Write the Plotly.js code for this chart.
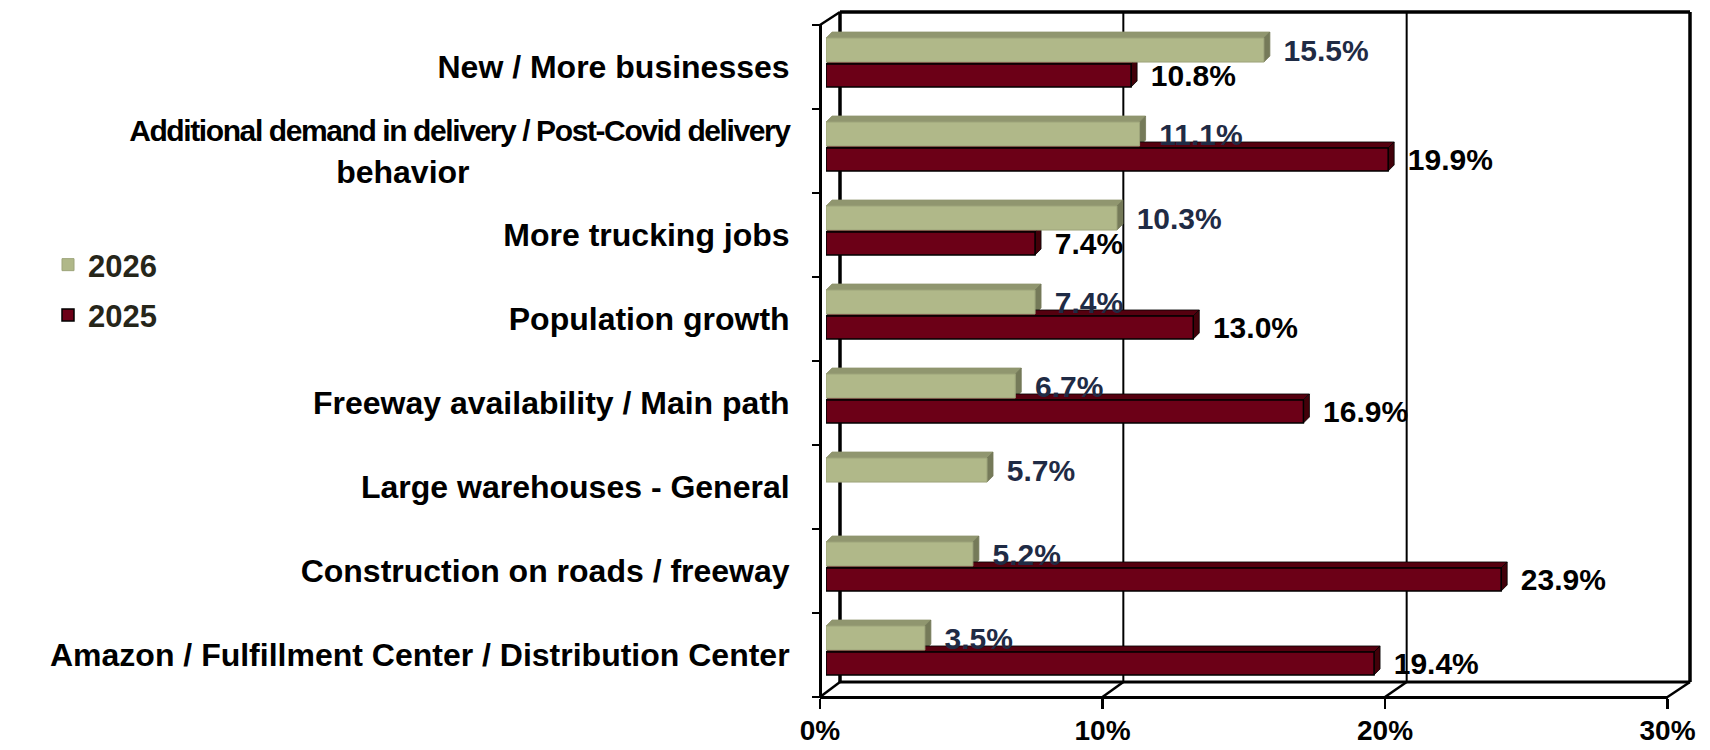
<!DOCTYPE html>
<html>
<head>
<meta charset="utf-8">
<script src="https://cdn.plot.ly/plotly-3.0.1.min.js"></script>
<style>
  html, body { margin: 0; padding: 0; background: #ffffff; }
  #chart { width: 1710px; height: 750px; }
</style>
</head>
<body>
<div id="chart"></div>
<script>
// ---------------- data ----------------
const categories = [
  "New / More businesses",
  "Additional demand in delivery / Post-Covid delivery behavior",
  "More trucking jobs",
  "Population growth",
  "Freeway availability / Main path",
  "Large warehouses - General",
  "Construction on roads / freeway",
  "Amazon / Fulfillment Center / Distribution Center"
];
const seriesNames = ["2026", "2025"];
const values2026 = [15.5, 11.1, 10.3, 7.4, 6.7, 5.7, 5.2, 3.5];
const values2025 = [10.8, 19.9, 7.4, 13.0, 16.9, null, 23.9, 19.4];
const xTickVals = [0, 10, 20, 30];
const xTickLabels = ["0%", "10%", "20%", "30%"];

// ---------------- geometry / style ----------------
const W = 1710, H = 750;
const FONT = "Liberation Sans, Arial, sans-serif";
const px = x => x / W;
const py = y => 1 - y / H;

const BAR_X0 = 826, BAR_X1 = 1673.5;        // bar plane (0..30%)
const FRONT_X0 = 820, FRONT_X1 = 1667.5;    // front axis plane
const BACK_X0 = 840, BACK_X1 = 1690;        // back wall
const PLOT_TOP = 25, PLOT_BOTTOM = 697;     // front plane vertical extent
const BACK_TOP = 12, BACK_BOTTOM = 682;
const XMAX = xTickVals[xTickVals.length - 1];

const nCat = categories.length;
const idx = categories.map((_, i) => i);
const catPx = (PLOT_BOTTOM - PLOT_TOP) / nCat;
const xPx = (BAR_X1 - BAR_X0) / XMAX;
const DEPTH = 6;
const dxD = DEPTH / xPx, dyD = DEPTH / catPx;

const LABEL_SIZE = 32;

// wrap long labels: first line is set tighter, second line shifted as in the original
function wrapLabel(s) {
  const maxLen = 52;
  if (s.length <= maxLen) return s;
  const cut = s.lastIndexOf(" ", maxLen);
  const l1 = s.slice(0, cut), l2 = s.slice(cut + 1);
  const padN = Math.round(320 / (0.278 * LABEL_SIZE));
  return '<span style="font-size:30px;letter-spacing:-1.4px">' + l1 + '</span><br>' +
         l2 + "\u00a0".repeat(padN);
}
const tickText = categories.map(wrapLabel);

const styles = [
  { name: seriesNames[0], vals: values2026, front: "#b0b889", top: "#90966f", side: "#757a59",
    edge: "#9da47a", edgeW: 1, offset: -0.345, width: 0.286, textColor: "#1f2b45" },
  { name: seriesNames[1], vals: values2025, front: "#6c0017", top: "#55000f", side: "#420009",
    edge: "#000000", edgeW: 1.5, offset: -0.036, width: 0.274, textColor: "#000000" }
];

const traces = styles.map((s, k) => ({
  type: "bar",
  orientation: "h",
  name: s.name,
  x: s.vals,
  y: idx,
  base: 0,
  offset: s.offset,
  width: s.width,
  marker: { color: s.front, line: { color: s.edge, width: s.edgeW } },
  texttemplate: "\u00a0\u00a0%{x:.1f}%",
  textposition: "outside",
  constraintext: "none",
  cliponaxis: false,
  textfont: { family: FONT, size: 30, color: s.textColor, weight: "bold" },
  legendgroup: "g" + k,
  hoverinfo: "skip",
  xaxis: "x",
  yaxis: "y"
}));

// invisible carrier so the front (value) axis is drawn
traces.push({
  type: "scatter", mode: "none",
  x: xTickVals, y: xTickVals.map(() => 0),
  xaxis: "x2", yaxis: "y",
  showlegend: false, hoverinfo: "skip"
});

// ---------------- shapes: 3D frame ----------------
const shapes = [];
function seg(x0, y0, x1, y1, w, layer) {
  shapes.push({ type: "line", xref: "paper", yref: "paper",
    x0: px(x0), y0: py(y0), x1: px(x1), y1: py(y1),
    line: { color: "#000000", width: w }, layer: layer || "below" });
}
const backX = v => BACK_X0 + v / XMAX * (BACK_X1 - BACK_X0);
const frontX = v => FRONT_X0 + v / XMAX * (FRONT_X1 - FRONT_X0);
xTickVals.forEach(v => {
  if (v > 0 && v < XMAX) seg(backX(v), BACK_TOP, backX(v), BACK_BOTTOM, 2);
});
seg(BACK_X0, BACK_TOP, BACK_X0, BACK_BOTTOM, 3.5);
seg(BACK_X0, BACK_TOP, BACK_X1, BACK_TOP, 3.5);
seg(BACK_X1, BACK_TOP, BACK_X1, BACK_BOTTOM, 3.5);
seg(BACK_X0, BACK_BOTTOM, BACK_X1, BACK_BOTTOM, 3);
xTickVals.forEach(v => seg(frontX(v), PLOT_BOTTOM, backX(v), BACK_BOTTOM, 2.5));
seg(FRONT_X0, PLOT_TOP, BACK_X0, BACK_TOP, 2.5);
for (let k = 0; k <= nCat; k++) {
  const y = PLOT_TOP + k * catPx;
  seg(FRONT_X0 - 8, y, FRONT_X0, y, 2, "above");
}

// ---------------- shapes: bar top / side faces ----------------
styles.forEach(s => {
  s.vals.forEach((v, i) => {
    if (v === null || v === undefined) return;
    const yT = i + s.offset, yB = i + s.offset + s.width;
    const edgeCol = s.edge === "#000000" ? "#000000" : null;
    shapes.push({ type: "path", xref: "x", yref: "y", layer: "below",
      path: `M 0,${yT} L ${dxD},${yT - dyD} L ${v + dxD},${yT - dyD} L ${v},${yT} Z`,
      fillcolor: s.top, line: { color: edgeCol || s.top, width: 0.8 } });
    shapes.push({ type: "path", xref: "x", yref: "y", layer: "below",
      path: `M ${v},${yT} L ${v + dxD},${yT - dyD} L ${v + dxD},${yB - dyD} L ${v},${yB} Z`,
      fillcolor: s.side, line: { color: edgeCol || s.side, width: 0.8 } });
  });
});

const layout = {
  width: W, height: H,
  margin: { l: 0, r: 0, t: 0, b: 0, pad: 0 },
  paper_bgcolor: "#ffffff",
  plot_bgcolor: "rgba(0,0,0,0)",
  font: { family: FONT, color: "#000000" },
  barmode: "overlay",
  showlegend: true,
  legend: {
    x: px(48), y: py(238), xanchor: "left", yanchor: "top",
    font: { family: FONT, size: 31, color: "#26261a", weight: "bold" },
    traceorder: "grouped", tracegroupgap: 7,
    bgcolor: "rgba(0,0,0,0)", borderwidth: 0
  },
  xaxis: {
    domain: [px(BAR_X0), px(BAR_X1)],
    range: [0, XMAX],
    visible: false,
    fixedrange: true
  },
  xaxis2: {
    domain: [px(FRONT_X0), px(FRONT_X1)],
    range: [0, XMAX],
    anchor: "free",
    position: py(PLOT_BOTTOM),
    side: "bottom",
    tickmode: "array",
    tickvals: xTickVals,
    ticktext: xTickLabels,
    ticks: "outside", ticklen: 10, tickwidth: 2.5, tickcolor: "#000000",
    showline: true, linewidth: 3, linecolor: "#000000",
    showgrid: false, zeroline: false,
    tickfont: { family: FONT, size: 28, color: "#000000", weight: "bold" },
    ticklabelstandoff: -3,
    fixedrange: true
  },
  yaxis: {
    domain: [py(PLOT_BOTTOM), py(PLOT_TOP)],
    range: [nCat - 0.5, -0.5],
    anchor: "free",
    position: px(FRONT_X0),
    tickmode: "array",
    tickvals: idx,
    ticktext: tickText,
    ticks: "",
    showline: true, linewidth: 2.5, linecolor: "#000000",
    showgrid: false, zeroline: false,
    tickfont: { family: FONT, size: LABEL_SIZE, color: "#000000", weight: "bold" },
    ticklabelstandoff: 23,
    automargin: false,
    fixedrange: true
  },
  shapes: shapes
};

Plotly.newPlot("chart", traces, layout, { displayModeBar: false, staticPlot: true });
</script>
</body>
</html>
